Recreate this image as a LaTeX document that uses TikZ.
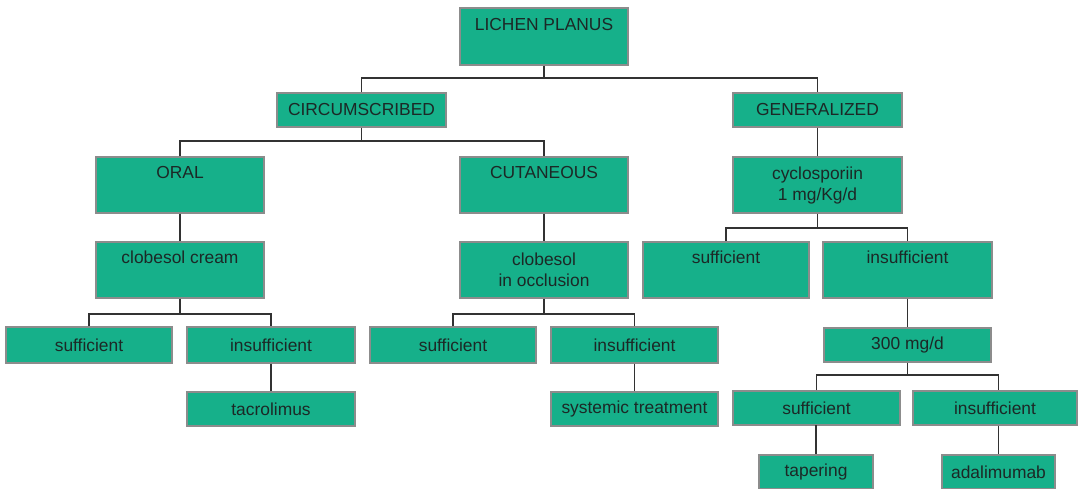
\documentclass[tikz,border=0pt]{standalone}
\usepackage{fontspec}
\setmainfont{Liberation Sans}
\definecolor{boxfill}{RGB}{22,176,138}
\definecolor{boxline}{RGB}{140,140,140}
\definecolor{conncol}{RGB}{50,50,50}
\definecolor{txtcol}{RGB}{28,40,38}
\tikzset{
  box/.style={draw=boxline, line width=1.4pt, fill=boxfill, inner sep=0pt,
    text=txtcol, align=center, font=\fontsize{17.4}{21}\selectfont},
  conn/.style={draw=conncol, line width=1.5pt},
  toptext/.style={text=txtcol, inner sep=0pt, font=\fontsize{17.4}{21}\selectfont}
}
\begin{document}
\begin{tikzpicture}[x=1pt,y=-1pt]
\useasboundingbox (0,0) rectangle (1078,488);
% boxes
\node[box, minimum width=168, minimum height=57] (lp) at (544,36.5) {};
\node[toptext] at ([yshift=-17pt]lp.north) {LICHEN PLANUS};
\node[box, minimum width=169, minimum height=34] (circ) at (361.5,110) {CIRCUMSCRIBED};
\node[box, minimum width=169, minimum height=34] (gen) at (817.5,110) {GENERALIZED};
\node[box, minimum width=168, minimum height=56] (oral) at (180,185) {};
\node[toptext] at ([yshift=-16pt]oral.north) {ORAL};
\node[box, minimum width=168, minimum height=56] (cut) at (544,185) {};
\node[toptext] at ([yshift=-16pt]cut.north) {CUTANEOUS};
\node[box, minimum width=169, minimum height=56] (cyc) at (817.5,185) {\raisebox{-3pt}{cyclosporiin}\\\raisebox{-3pt}{1 mg/Kg/d}};
\node[box, minimum width=168, minimum height=56] (cc) at (180,270) {};
\node[toptext] at ([yshift=-16pt]cc.north) {clobesol cream};
\node[box, minimum width=168, minimum height=56] (co) at (544,270) {clobesol\\in occlusion};
\node[box, minimum width=166, minimum height=56] (gs) at (726,270) {};
\node[toptext] at ([yshift=-16pt]gs.north) {sufficient};
\node[box, minimum width=169, minimum height=56] (gi) at (907.5,270) {};
\node[toptext] at ([yshift=-16pt]gi.north) {insufficient};
\node[box, minimum width=167, minimum height=34] (g300) at (907.5,345) {300 mg/d};
\node[box, minimum width=167, minimum height=34] (gs2) at (816.5,408) {sufficient};
\node[box, minimum width=164, minimum height=34] (gi2) at (995,408) {insufficient};
\node[box, minimum width=114, minimum height=34] (tap) at (816,472) {tapering};
\node[box, minimum width=113, minimum height=34] (ada) at (998.5,472) {adalimumab};
\node[box, minimum width=166, minimum height=36] (os) at (89,345) {sufficient};
\node[box, minimum width=168, minimum height=36] (oi) at (271,345) {insufficient};
\node[box, minimum width=168, minimum height=34] (tac) at (271,409) {tacrolimus};
\node[box, minimum width=166, minimum height=36] (cs) at (453,345) {sufficient};
\node[box, minimum width=167, minimum height=36] (ci) at (634.5,345) {insufficient};
\node[box, minimum width=167, minimum height=34] (sys) at (634.5,409) {systemic treatment};
% bus levels
\coordinate (b1) at (0,78);
\coordinate (b2) at (0,141);
\coordinate (b3) at (0,228);
\coordinate (b4) at (0,314);
\coordinate (b5) at (0,375);
% connectors
\draw[conn] (lp.south) -- (lp.south |- b1);
\draw[conn] (circ.north) -- (circ.north |- b1) -- (gen.north |- b1) -- (gen.north);
\draw[conn] (circ.south) -- (circ.south |- b2);
\draw[conn] (oral.north) -- (oral.north |- b2) -- (cut.north |- b2) -- (cut.north);
\draw[conn] (gen.south) -- (cyc.north);
\draw[conn] (oral.south) -- (cc.north);
\draw[conn] (cut.south) -- (co.north);
\draw[conn] (cyc.south) -- (cyc.south |- b3);
\draw[conn] (gs.north) -- (gs.north |- b3) -- (gi.north |- b3) -- (gi.north);
\draw[conn] (gi.south) -- (g300.north);
\draw[conn] (g300.south) -- (g300.south |- b5);
\draw[conn] (gs2.north) -- (gs2.north |- b5) -- (ada.north |- b5) -- (ada.north |- gi2.north);
\draw[conn] (gs2.south) -- (gs2.south -| tap.north) -- (tap.north);
\draw[conn] (ada.north |- gi2.south) -- (ada.north);
\draw[conn] (cc.south) -- (cc.south |- b4);
\draw[conn] (os.north) -- (os.north |- b4) -- (oi.north |- b4) -- (oi.north);
\draw[conn] (oi.south) -- (tac.north);
\draw[conn] (co.south) -- (co.south |- b4);
\draw[conn] (cs.north) -- (cs.north |- b4) -- (ci.north |- b4) -- (ci.north);
\draw[conn] (ci.south) -- (sys.north);
\end{tikzpicture}
\end{document}
